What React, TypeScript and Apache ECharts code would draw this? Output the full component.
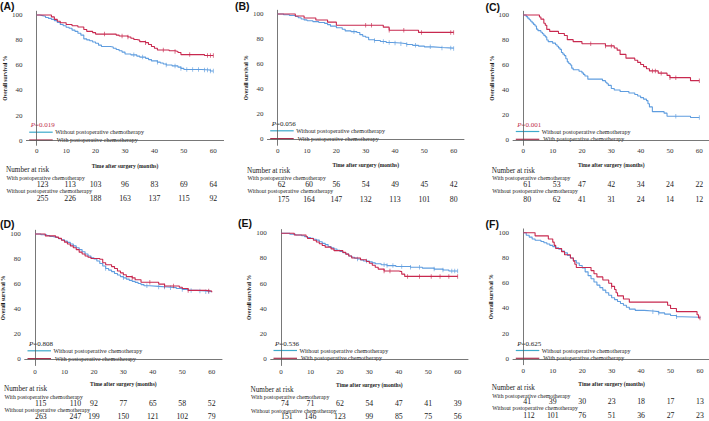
import React, { useEffect, useRef } from "react";
import * as echarts from "echarts";

// ---------- texts ----------
const timeTicks = [0, 10, 20, 30, 40, 50, 60];
const survivalTicks = [0, 20, 40, 60, 80, 100];
const panelTitles = ["(A)", "(B)", "(C)", "(D)", "(E)", "(F)"];
const pValues = ["0.019", "0.056", "0.001", "0.808", "0.536", "0.625"];
const withLabel = "With postoperative chemotherapy";
const withoutLabel = "Without postoperative chemotherapy";
const xTitle = "Time after surgery (months)";
const yTitle = "Overall survival %";
const riskTitle = "Number at risk";

// ---------- Kaplan-Meier curves: [month, survival % after the step] ----------
const aWith = [[0,100],[5,98.5],[6,96.5],[7,95],[8,93.8],[10,92.5],[12,91.5],[14,90.5],[16,88.5],[17,87],[19,86],[20,84.8],[27,84],[28,83.3],[31,82.5],[32,81.5],[33,80.5],[34,80],[35,78.8],[37,78],[38,76.5],[39,75],[40,73.5],[41,72.2],[45,71.5],[47,71],[48,70.2],[49,68.5],[57,67.8],[60,67.8]];
const aWithout = [[0,100],[1,99.5],[2,99],[3,98],[4,97.3],[5,96.5],[6,95.5],[7,94],[8,92.5],[9,91.5],[10,90.3],[11,89.5],[12,88],[13,87],[14,85.5],[15,84],[16,81],[17,80.2],[18,79.5],[19,78.5],[20,77.5],[21,76],[22,75],[25,74.5],[26,73.5],[27,72.5],[28,71.5],[29,70.5],[30,69],[32,68.3],[34,67.3],[35,66.5],[37,65.5],[38,64.5],[39,63.5],[41,62.5],[42,61.8],[43,61],[44,60.2],[46,59.5],[48,58.5],[49,57.5],[50,56.7],[56,56.2],[59,55.5],[60,55.5]];
const aWithCensor = [23, 29, 31, 37, 43, 47, 52, 58, 59, 60];
const aWithoutCensor = [33, 36, 41, 44, 47, 49, 51, 53, 55, 57, 58, 59, 60];
const aRiskWith = [123, 113, 103, 96, 83, 69, 64];
const aRiskWithout = [255, 226, 188, 163, 137, 115, 92];

const bWith = [[0,100],[6,98.4],[9,96.8],[13,95.2],[17,93.5],[20,91],[36,89.5],[38,87],[48,85.3],[60,85.3]];
const bWithout = [[0,100],[2,99.4],[4,98.8],[6,98],[7,97],[8,96],[9,95.3],[10,94.6],[12,93.9],[14,93.2],[16,92.5],[17,91.5],[18,90.3],[20,89],[22,87.8],[23,86.5],[25,85.9],[27,85.2],[28,83.5],[29,82.3],[30,81.5],[31,79.5],[33,78.8],[35,78],[37,77.3],[39,76.8],[42,76.3],[44,75.6],[46,75],[48,74.4],[50,73.8],[53,73.3],[56,72.8],[60,72.5]];
const bWithCensor = [30, 32, 38, 43, 49, 59, 60];
const bWithoutCensor = [26, 33, 36, 38, 40, 42, 44, 47, 52, 56, 59, 60];
const bRiskWith = [62, 60, 56, 54, 49, 45, 42];
const bRiskWithout = [175, 164, 147, 132, 113, 101, 80];

const cWith = [[0,100],[5.5,98.4],[6,96.7],[7,93.4],[7.5,91.8],[8,88.5],[9,86.9],[12,85.2],[14,83.6],[15,80.3],[17,78.7],[20,77],[28,75.3],[31,73.6],[32,71.9],[33,68.5],[35,65.5],[38,63.8],[39,62.1],[40,60.4],[41,58.7],[42,57],[43,55.3],[46,53.5],[49,51.7],[50,49.9],[57,47.5],[60,47.5]];
const cWithout = [[0,100],[1,98.7],[1.5,97.5],[2,96.2],[2.5,95],[3,93.7],[3.5,92.5],[4,91.2],[4.5,88.7],[5,87.5],[6,86.2],[6.5,85],[7,83.7],[7.5,82.5],[8,80],[8.5,78.7],[10,77.5],[11,76.2],[11.5,75],[12,73.7],[12.5,72.5],[13,70],[13.5,68.7],[14,67.5],[14.5,65],[15,62.5],[15.5,61.2],[16,60],[16.5,57.5],[17,56.2],[19,55],[20,53.7],[20.5,52.5],[21,51.2],[22,48.7],[27,47.5],[28,46.2],[28.5,45],[29,43.7],[30,41.2],[31,40],[33,38.8],[36,37.6],[38,36.4],[39,35.2],[40,33.9],[41,32.7],[42,31.5],[42.5,29],[43,26.5],[44,22.7],[48,21.5],[49,19],[57,18],[60,18]];
const cWithCensor = [23, 28, 30, 44, 45, 47, 50, 52, 60];
const cWithoutCensor = [52, 60];
const cRiskWith = [61, 53, 47, 42, 34, 24, 22];
const cRiskWithout = [80, 62, 41, 31, 24, 14, 12];

const dWith = [[0,100],[3.5,98.5],[7,97.5],[8,96.5],[9,95],[10,93.5],[11,92],[12,90.5],[13,89],[14,87.5],[15,85.5],[16,84],[17,82.5],[18,81.5],[19,80.5],[22,79.8],[23,77],[24,75.5],[26,74],[27,72.5],[28,70.5],[29,69],[30,67.5],[31,66],[33,65],[34,63.5],[36,61.5],[42,60],[44,58.5],[49,57.5],[50,56.5],[52,55],[58,54.5],[60,53.5]];
const dWithout = [[0,100],[2,99.4],[4,98.8],[5,98],[6,97.5],[7,97],[8,96.2],[9,95.3],[10,94.3],[11,93.3],[12,92],[13,90.5],[14,89],[15,87.5],[16,85.8],[17,84],[18,82.5],[19,81],[20,80],[21,78.5],[22,76.5],[23,74.5],[24,72.5],[25,71.2],[26,70],[27,68.5],[28,67.3],[29,66],[30,65],[31,64],[32,63],[33,62.2],[34,61.4],[35,60.5],[36,59.6],[37,58.7],[39,58.2],[42,57.7],[45,57.2],[48,56.5],[50,55.8],[52,55],[55,54.5],[58,54],[60,53.5]];
const dWithCensor = [33, 39, 44, 47, 52, 59];
const dWithoutCensor = [24, 30, 38, 42, 44, 46, 50, 53, 56, 58, 59];
const dRiskWith = [115, 110, 92, 77, 65, 58, 52];
const dRiskWithout = [263, 247, 199, 150, 121, 102, 79];

const eWith = [[0,100],[4.5,98.6],[8.5,97.2],[9,95.9],[11,94.5],[12,93.1],[13,91.7],[14,90.3],[15,89],[17,87.6],[18,86.2],[21,84.8],[22,83.4],[23,81.9],[24,80.4],[27,79],[29,77.6],[30,76.2],[31,74.6],[32,73],[33,71.5],[35,70],[40,69.5],[41,67.5],[42,65.7],[60,65.7]];
const eWithout = [[0,100],[3,99.3],[5,98.7],[7,98],[8,97.3],[9,96.6],[10,96],[11,95.3],[12,94.6],[13,93.3],[14,92],[15,91],[16,89.5],[17,88.5],[18,87.5],[19,86.5],[20,85.5],[21,84.5],[22,83.5],[23,82],[24,81],[25,80.2],[26,79.5],[27,78.8],[28,78],[30,77.3],[31,76.5],[32,75.8],[34,75],[36,74.3],[39,73.6],[44,73],[48,72.3],[52,71.5],[55,70.8],[57,70],[60,70]];
const eWithCensor = [35, 37, 43, 47, 51, 54, 57, 60];
const eWithoutCensor = [26, 29, 35, 36, 38, 41, 44, 47, 52, 55, 58, 59, 60];
const eRiskWith = [74, 71, 62, 54, 47, 41, 39];
const eRiskWithout = [151, 146, 123, 99, 85, 75, 56];

const fWith = [[0,100],[4,97.5],[8.5,95],[10,92.5],[10.5,90],[11,87.5],[13,85],[14,82.5],[16,80],[17,77.5],[17.5,75],[18,72.5],[23,70],[24,67.5],[25,65],[27,62.5],[29,60],[30,57.5],[31,55],[31.5,52.5],[32,50],[34,47.5],[36,45],[49,42.5],[50,40],[52,37.5],[59,35],[59.5,32.5],[60,32.5]];
const fWithout = [[0,100],[1,98],[2,96.5],[3,95],[4,94],[6,93],[7,92],[8,91],[9,90],[10,89],[11,88],[12,87],[13,85.5],[14,84],[15,82],[16,80],[17,78],[18,76],[19,74],[20,72],[21,69],[22,66],[23,63.5],[24,61],[25,58.5],[26,56.5],[27,54.5],[28,52.5],[29,50.5],[30,48.5],[31,47],[32,45.5],[33,44],[34,42.5],[35,41],[36,39.5],[38,38.5],[41,38],[44,37.5],[46,36.5],[48,35.5],[50,34.5],[52,33.5],[54,33],[60,32.2]];
const fWithCensor = [30, 60];
const fWithoutCensor = [44, 46, 52];
const fRiskWith = [41, 39, 30, 23, 18, 17, 13];
const fRiskWithout = [112, 101, 76, 51, 36, 27, 23];

const panelsData = [
  { w: aWith, wo: aWithout, wc: aWithCensor, woc: aWithoutCensor, rw: aRiskWith, rwo: aRiskWithout },
  { w: bWith, wo: bWithout, wc: bWithCensor, woc: bWithoutCensor, rw: bRiskWith, rwo: bRiskWithout },
  { w: cWith, wo: cWithout, wc: cWithCensor, woc: cWithoutCensor, rw: cRiskWith, rwo: cRiskWithout },
  { w: dWith, wo: dWithout, wc: dWithCensor, woc: dWithoutCensor, rw: dRiskWith, rwo: dRiskWithout },
  { w: eWith, wo: eWithout, wc: eWithCensor, woc: eWithoutCensor, rw: eRiskWith, rwo: eRiskWithout },
  { w: fWith, wo: fWithout, wc: fWithCensor, woc: fWithoutCensor, rw: fRiskWith, rwo: fRiskWithout },
];

// ---------- layout (pixels) ----------
const layout = [
  { x0: 36.7, x60: 213.3, y100: 15, y0: 140.7, axisY: 145.3, lx: 0, ly: 5.5, tx: 6, nar: 170.3, r1l: 178, r1: 184.3, r2l: 190.7, r2: 198.7, pRed: true, shift: 4, xt: 165.7 },
  { x0: 277.7, x60: 453.7, y100: 14, y0: 139.3, axisY: 145.3, lx: 235, ly: 5.5, tx: 247, nar: 171, r1l: 177.7, r1: 184.3, r2l: 191, r2: 199.3, pRed: false, shift: 2, xt: 164.5 },
  { x0: 523.3, x60: 699.3, y100: 15, y0: 140, axisY: 145.3, lx: 485.5, ly: 7, tx: 491.7, nar: 171, r1l: 177.7, r1: 183.9, r2l: 191, r2: 199.3, pRed: true, shift: 4, xt: 164.5 },
  { x0: 35, x60: 211.7, y100: 234, y0: 359.3, axisY: 365.5, lx: 0, ly: 224, tx: 4, nar: 389.3, r1l: 396.5, r1: 403.5, r2l: 410.3, r2: 416.5, pRed: false, shift: 11, xt: 383.5 },
  { x0: 281, x60: 457.7, y100: 233.3, y0: 359, axisY: 365.5, lx: 238, ly: 223, tx: 250.5, nar: 390, r1l: 397, r1: 403.8, r2l: 410.6, r2: 416.6, pRed: false, shift: 0, xt: 384.5 },
  { x0: 523.3, x60: 700, y100: 232.7, y0: 359, axisY: 364.7, lx: 485.5, ly: 224, tx: 491.7, nar: 388.3, r1l: 395.7, r1: 401.7, r2l: 408.3, r2: 415.8, pRed: false, shift: 0, xt: 383.5 },
];

const serif = "'Liberation Serif', 'Times New Roman', serif";
const sans = "'Liberation Sans', Arial, sans-serif";
const curveBlue = "#5f9ddf";
const curveRed = "#c8294f";
const legendBlue = "#3eaacb";
const legendRed = "#a8314d";
const axisColor = "#555";
const textColor = "#1a1a1a";

function stepValue(curve: number[][], t: number) {
  let v = curve[0][1];
  for (const p of curve) {
    if (p[0] <= t) v = p[1];
    else break;
  }
  return v;
}

function buildOption() {
  const grid: any[] = [];
  const xAxis: any[] = [];
  const yAxis: any[] = [];
  const series: any[] = [];
  const graphic: any[] = [];
  const xMin = -3.5;
  const xMax = 63.5;
  const yMax = 103;

  layout.forEach((L, i) => {
    const D = panelsData[i];
    const xs = (L.x60 - L.x0) / 60;
    const ys = (L.y0 - L.y100) / 100;
    const yMin = -(L.axisY - L.y0) / ys;
    const top = L.y100 - (yMax - 100) * ys;
    grid.push({
      left: L.x0 + xMin * xs,
      width: (xMax - xMin) * xs,
      top,
      height: L.axisY - top,
      containLabel: false,
      outerBoundsMode: "none",
    });
    xAxis.push({
      type: "value", gridIndex: i, min: xMin, max: xMax, position: "bottom",
      axisLine: { show: true, lineStyle: { color: axisColor, width: 0.8 } },
      axisTick: { show: false }, splitLine: { show: false },
      axisLabel: { customValues: timeTicks, fontSize: 7, fontFamily: serif, color: "#333", margin: 2.5 },
      name: xTitle, nameLocation: "middle", nameGap: L.xt - L.axisY - 3,
      nameTextStyle: { fontSize: 5.5, fontWeight: "bold", fontFamily: serif, color: textColor },
    });
    const riskAxis = (vals: number[], rowY: number) => ({
      type: "value", gridIndex: i, min: xMin, max: xMax, position: "bottom",
      offset: rowY - L.axisY - 3.9,
      axisLine: { show: false }, axisTick: { show: false }, splitLine: { show: false },
      axisLabel: {
        customValues: timeTicks, margin: 0, fontSize: 7.8, fontFamily: serif, color: textColor,
        alignMinLabel: "left",
        formatter: (v: number) => {
          const k = Math.round(v / 10);
          const s = String(vals[k]);
          return k === 1 && L.shift ? "{s|" + s + "}" : s;
        },
        rich: { s: { fontSize: 7.8, fontFamily: serif, color: textColor, padding: [0, 0, 0, 2 * L.shift] } },
      },
    });
    xAxis.push(riskAxis(D.rw, L.r1));
    xAxis.push(riskAxis(D.rwo, L.r2));
    yAxis.push({
      type: "value", gridIndex: i, min: yMin, max: yMax,
      axisLine: { show: true, lineStyle: { color: axisColor, width: 0.8 } },
      axisTick: { show: false }, splitLine: { show: false },
      axisLabel: { customValues: survivalTicks, fontSize: 7, fontFamily: serif, color: "#333", margin: 4 },
      name: yTitle, nameLocation: "middle", nameGap: 18.5,
      nameTextStyle: { fontSize: 5.5, fontWeight: "bold", fontFamily: serif, color: textColor },
    });

    const addCurve = (curve: number[][], censor: number[], color: string, name: string, z: number) => {
      series.push({
        type: "line", name, xAxisIndex: 3 * i, yAxisIndex: i, data: curve, step: "end",
        symbol: "none", lineStyle: { color, width: 1.1 }, itemStyle: { color }, z, silent: true,
      });
      series.push({
        type: "scatter", name, xAxisIndex: 3 * i, yAxisIndex: i,
        data: censor.map((t) => [t, stepValue(curve, t)]),
        symbol: "rect", symbolSize: [0.8, 4.5], itemStyle: { color }, z, silent: true,
      });
    };
    addCurve(D.wo, D.woc, curveBlue, withoutLabel, 2);
    addCurve(D.w, D.wc, curveRed, withLabel, 3);

    // panel label
    graphic.push({ type: "text", x: L.lx, y: L.ly, silent: true,
      style: { text: panelTitles[i], fontFamily: sans, fontWeight: "bold", fontSize: 10.5, fill: "#111", verticalAlign: "middle" } });
    // risk table titles
    graphic.push({ type: "text", x: L.tx, y: L.nar, silent: true,
      style: { text: riskTitle, fontFamily: serif, fontSize: 7.2, fill: textColor, verticalAlign: "middle" } });
    graphic.push({ type: "text", x: L.tx + 0.5, y: L.r1l, silent: true,
      style: { text: withLabel, fontFamily: serif, fontSize: 5.8, fill: textColor, verticalAlign: "middle" } });
    graphic.push({ type: "text", x: L.tx + 0.5, y: L.r2l, silent: true,
      style: { text: withoutLabel, fontFamily: serif, fontSize: 5.8, fill: textColor, verticalAlign: "middle" } });
    // P value
    const pColor = L.pRed ? "#c0304d" : textColor;
    graphic.push({ type: "text", x: L.x0 - 6, y: L.y0 - 15.5, silent: true,
      style: {
        text: "{i|P}{n|=" + pValues[i] + "}", verticalAlign: "middle",
        rich: {
          i: { fontStyle: "italic", fontFamily: serif, fontSize: 7, fill: pColor, color: pColor },
          n: { fontFamily: serif, fontSize: 7, fill: pColor, color: pColor },
        },
      } });
    // legend
    const ly1 = L.y0 - 8.5;
    const ly2 = L.y0 - 0.7;
    graphic.push({ type: "line", silent: true, shape: { x1: L.x0 - 7.5, y1: ly1, x2: L.x0 + 16, y2: ly1 }, style: { stroke: legendBlue, lineWidth: 1.2 } });
    graphic.push({ type: "line", silent: true, shape: { x1: L.x0 - 7.5, y1: ly2, x2: L.x0 + 16, y2: ly2 }, style: { stroke: legendRed, lineWidth: 1.2 } });
    graphic.push({ type: "text", x: L.x0 + 18.5, y: ly1, silent: true,
      style: { text: withoutLabel, fontFamily: serif, fontSize: 6, fill: textColor, verticalAlign: "middle" } });
    graphic.push({ type: "text", x: L.x0 + 20, y: ly2, silent: true,
      style: { text: withLabel, fontFamily: serif, fontSize: 6, fill: textColor, verticalAlign: "middle" } });
  });

  return {
    animation: false,
    backgroundColor: "#ffffff",
    grid, xAxis, yAxis, series, graphic,
  };
}

export default function App() {
  const ref = useRef<HTMLDivElement | null>(null);
  useEffect(() => {
    if (!ref.current) return;
    const chart = echarts.init(ref.current, undefined, { renderer: "svg" });
    chart.setOption(buildOption() as any);
    return () => chart.dispose();
  }, []);
  return (
    <div
      ref={ref}
      style={{ position: "fixed", left: 0, top: 0, width: 709, height: 421, background: "#fff" }}
    />
  );
}
